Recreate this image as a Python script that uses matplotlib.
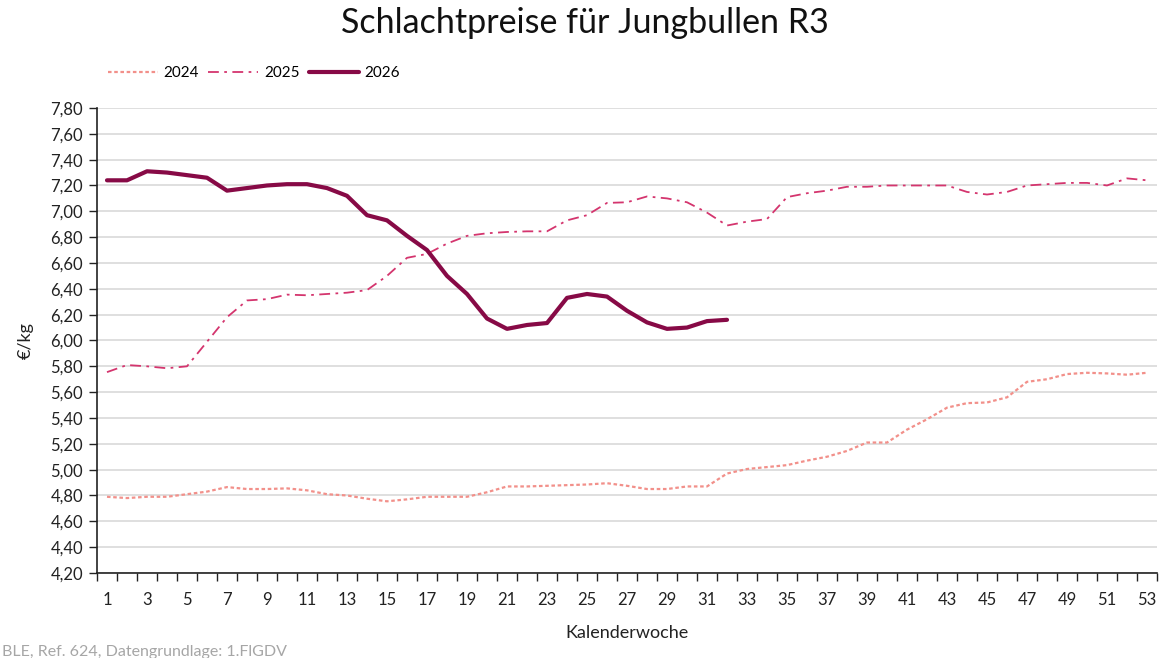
import matplotlib
matplotlib.use("Agg")
import matplotlib.pyplot as plt
from matplotlib.ticker import FixedLocator, FuncFormatter

plt.rcParams['font.family'] = ['Lato', 'DejaVu Sans']

weeks = list(range(1, 54))

# Schlachtpreise Jungbullen R3, €/kg je Kalenderwoche
preise_2024 = [4.79, 4.78, 4.79, 4.79, 4.81, 4.83, 4.865, 4.85, 4.85, 4.855,
               4.84, 4.81, 4.80, 4.775, 4.755, 4.77, 4.79, 4.79, 4.79, 4.825,
               4.87, 4.87, 4.875, 4.88, 4.885, 4.895, 4.875, 4.85, 4.85, 4.87,
               4.87, 4.97, 5.005, 5.02, 5.035, 5.07, 5.10, 5.145, 5.21, 5.21,
               5.31, 5.39, 5.48, 5.515, 5.52, 5.56, 5.68, 5.70, 5.74, 5.75,
               5.745, 5.735, 5.75]
preise_2025 = [5.755, 5.81, 5.80, 5.785, 5.80, 5.99, 6.18, 6.31, 6.32, 6.355,
               6.35, 6.36, 6.37, 6.39, 6.50, 6.64, 6.67, 6.75, 6.81, 6.83,
               6.84, 6.845, 6.845, 6.93, 6.97, 7.065, 7.07, 7.115, 7.10, 7.07,
               6.99, 6.89, 6.92, 6.94, 7.11, 7.14, 7.16, 7.19, 7.19, 7.20,
               7.20, 7.20, 7.20, 7.15, 7.13, 7.15, 7.20, 7.21, 7.22, 7.22,
               7.20, 7.255, 7.24]
preise_2026 = [7.24, 7.24, 7.31, 7.30, 7.28, 7.26, 7.16, 7.18, 7.20, 7.21,
               7.21, 7.18, 7.12, 6.97, 6.93, 6.81, 6.70, 6.50, 6.36, 6.17,
               6.09, 6.12, 6.135, 6.33, 6.36, 6.34, 6.23, 6.14, 6.09, 6.10,
               6.15, 6.16]

y_ticks = [4.2 + 0.2 * i for i in range(19)]

fig = plt.figure(figsize=(11.7, 6.58), dpi=100)
ax = fig.add_axes([0.0829, 0.1292, 0.906, 0.7067])

ax.plot(weeks, preise_2024, color='#f2908a', lw=1.6, linestyle=(0, (1.6, 1.2)), label='2024')
ax.plot(weeks, preise_2025, color='#d4356e', lw=1.3, linestyle=(0, (6, 3, 1.5, 3)), label='2025')
ax.plot(weeks[:len(preise_2026)], preise_2026, color='#870a46', lw=3.0,
        solid_capstyle='round', solid_joinstyle='round', label='2026')

ax.set_xlim(0.5, 53.5)
ax.set_ylim(4.2, 7.8)
ax.yaxis.set_major_locator(FixedLocator(y_ticks))
ax.yaxis.set_major_formatter(FuncFormatter(lambda v, p: f"{v:.2f}".replace('.', ',')))
ax.xaxis.set_major_locator(FixedLocator(weeks[::2]))
ax.xaxis.set_minor_locator(FixedLocator([w + 0.5 for w in range(0, 54)]))
ax.tick_params(axis='x', which='major', length=0, pad=14, labelsize=12, colors='#222222')
ax.tick_params(axis='x', which='minor', length=6, width=1, color='#222222', direction='out')
ax.tick_params(axis='y', which='major', length=6, width=1, labelsize=12, colors='#222222', pad=4)

ax.grid(axis='y', color='#d9d9d9', lw=1.2)
ax.set_axisbelow(True)
for s in ['top', 'right']:
    ax.spines[s].set_visible(False)
ax.spines['left'].set_color('#222222')
ax.spines['bottom'].set_color('#222222')
ax.spines['left'].set_linewidth(1.2)
ax.spines['bottom'].set_linewidth(1.2)

ax.set_ylabel('€/kg', fontsize=13, color='#222222', labelpad=12)
ax.set_xlabel('Kalenderwoche', fontsize=13, color='#222222', labelpad=12)

fig.suptitle('Schlachtpreise für Jungbullen R3', fontsize=24.5, color='#111111', y=0.99)

fig.legend(loc='center left', bbox_to_anchor=(100 / 1170, 1 - 73 / 658), ncol=3,
           frameon=False, fontsize=11, handlelength=3.3, handletextpad=0.35,
           columnspacing=0.6, borderpad=0)

fig.text(0.002, 0.003, 'BLE, Ref. 624, Datengrundlage: 1.FlGDV', fontsize=11.5, color='#a6a6a6')

fig.savefig('out.png', dpi=100)
